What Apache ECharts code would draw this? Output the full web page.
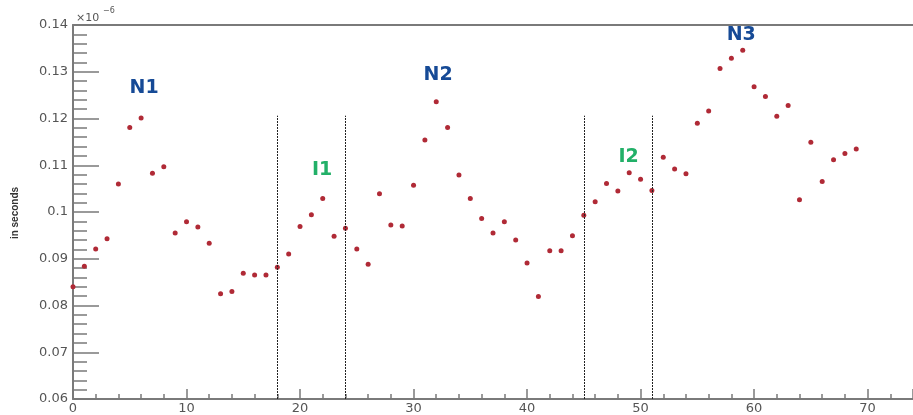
<!DOCTYPE html>
<html>
<head>
<meta charset="utf-8">
<script src="https://cdn.jsdelivr.net/npm/echarts@6/dist/echarts.min.js"></script>
<style>
  html, body { margin: 0; padding: 0; background: #fff; }
  #chart { width: 913px; height: 415px; }
</style>
</head>
<body>
<div id="chart"></div>
<script>
// Measurement index along the run
const indices = [
  0, 1, 2, 3, 4, 5, 6, 7, 8, 9,
  10, 11, 12, 13, 14, 15, 16, 17, 18, 19,
  20, 21, 22, 23, 24, 25, 26, 27, 28, 29,
  30, 31, 32, 33, 34, 35, 36, 37, 38, 39,
  40, 41, 42, 43, 44, 45, 46, 47, 48, 49,
  50, 51, 52, 53, 54, 55, 56, 57, 58, 59,
  60, 61, 62, 63, 64, 65, 66, 67, 68, 69
];
// Measured time (scaled by 1e-6), in seconds
const times = [
  0.0840, 0.0884, 0.0921, 0.0943, 0.1060, 0.1181, 0.1201, 0.1083, 0.1097, 0.0955,
  0.0979, 0.0968, 0.0933, 0.0825, 0.0830, 0.0869, 0.0865, 0.0865, 0.0882, 0.0910,
  0.0969, 0.0994, 0.1029, 0.0948, 0.0965, 0.0921, 0.0888, 0.1039, 0.0972, 0.0970,
  0.1057, 0.1154, 0.1236, 0.1181, 0.1079, 0.1029, 0.0986, 0.0955, 0.0979, 0.0940,
  0.0891, 0.0819, 0.0917, 0.0917, 0.0949, 0.0993, 0.1022, 0.1061, 0.1045, 0.1084,
  0.1070, 0.1046, 0.1117, 0.1092, 0.1082, 0.1190, 0.1216, 0.1307, 0.1329, 0.1346,
  0.1268, 0.1247, 0.1205, 0.1228, 0.1026, 0.1149, 0.1065, 0.1112, 0.1125, 0.1135
];
// Boundaries between regions (x positions of the dotted separators)
const boundaries = [18, 24, 45, 51];
const boundaryTop = 0.1206;
// Region labels
const regionNames = ['N1', 'I1', 'N2', 'I2', 'N3'];
const regionX = [6.27, 21.95, 32.17, 48.94, 58.87];
const regionY = [0.1265, 0.1089, 0.1293, 0.1117, 0.1378];
const regionKind = ['N', 'I', 'N', 'I', 'N'];

const X_MIN = 0, X_MAX = 74, Y_MIN = 0.06, Y_MAX = 0.14;
const axisGray = '#7a7a7a';
const labelGray = '#555';
const kindColor = { N: '#164a96', I: '#22b068' };

const points = indices.map((x, i) => [x, times[i]]);
const separators = boundaries.map(b => [{ coord: [b, Y_MIN] }, { coord: [b, boundaryTop] }]);
const labelData = regionNames.map((n, i) => ({
  name: n,
  value: [regionX[i], regionY[i]],
  label: { color: kindColor[regionKind[i]] }
}));

const chart = echarts.init(document.getElementById('chart'), null, { renderer: 'canvas' });
chart.setOption({
  animation: false,
  backgroundColor: '#fff',
  grid: { left: 73, right: 0, top: 25, bottom: 14.3, containLabel: false },
  xAxis: [
    {
      type: 'value', min: X_MIN, max: X_MAX, interval: 10,
      axisLine: { show: true, onZero: false, lineStyle: { color: axisGray, width: 2 } },
      axisTick: { show: true, inside: true, length: 10, lineStyle: { color: axisGray, width: 1.5 } },
      minorTick: { show: true, splitNumber: 5, length: 5, lineStyle: { color: axisGray, width: 1.5 } },
      splitLine: { show: false },
      axisLabel: {
        color: labelGray, fontFamily: 'DejaVu Sans', fontSize: 13, margin: 3,
        showMaxLabel: false
      }
    },
    {
      type: 'value', position: 'top', min: X_MIN, max: X_MAX,
      axisLine: { show: true, onZero: false, lineStyle: { color: axisGray, width: 2 } },
      axisTick: { show: false }, axisLabel: { show: false }, splitLine: { show: false }
    }
  ],
  yAxis: {
    type: 'value', min: Y_MIN, max: Y_MAX, interval: 0.01,
    axisLine: { show: true, onZero: false, lineStyle: { color: axisGray, width: 2 } },
    axisTick: { show: true, inside: true, length: 26, lineStyle: { color: axisGray, width: 1.5 } },
    minorTick: { show: true, splitNumber: 5, length: 14, lineStyle: { color: axisGray, width: 1.5 } },
    splitLine: { show: false },
    axisLabel: {
      color: labelGray, fontFamily: 'DejaVu Sans', fontSize: 13, margin: 5,
      formatter: v => String(+v.toFixed(2))
    }
  },
  series: [
    {
      type: 'scatter',
      xAxisIndex: 0,
      data: points,
      symbol: 'circle',
      symbolSize: 5,
      itemStyle: { color: '#b02a36', opacity: 1 },
      markLine: {
        silent: true,
        symbol: ['none', 'none'],
        label: { show: false },
        lineStyle: { color: '#222', width: 1, type: [2, 1] },
        data: separators
      }
    },
    {
      type: 'scatter',
      xAxisIndex: 0,
      data: labelData,
      symbolSize: 0,
      silent: true,
      itemStyle: { opacity: 1 },
      label: {
        show: true, position: 'inside', formatter: '{b}',
        fontFamily: 'DejaVu Sans', fontWeight: 'bold', fontSize: 19
      }
    }
  ],
  graphic: [
    {
      type: 'text', x: 15, y: 213, rotation: Math.PI / 2,
      style: {
        text: 'in seconds', fill: '#333', font: 'bold 10px "Liberation Sans"',
        align: 'center', verticalAlign: 'middle'
      }
    },
    {
      type: 'text', x: 76, y: 18,
      style: {
        text: '×10', fill: labelGray, font: '11px "DejaVu Sans"',
        align: 'left', verticalAlign: 'middle'
      }
    },
    {
      type: 'text', x: 103, y: 11,
      style: {
        text: '−6', fill: labelGray, font: '8px "DejaVu Sans"',
        align: 'left', verticalAlign: 'middle'
      }
    }
  ]
});
</script>
</body>
</html>
